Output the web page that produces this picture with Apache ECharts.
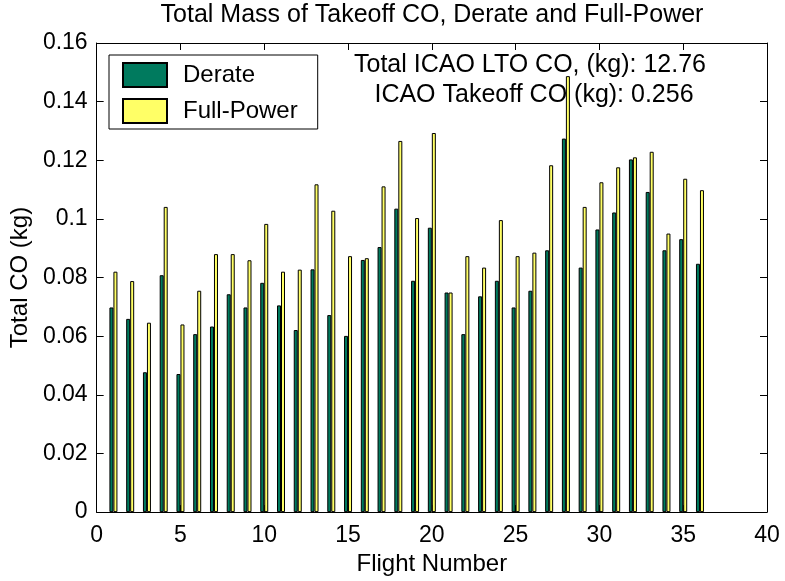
<!DOCTYPE html>
<html>
<head>
<meta charset="utf-8">
<script src="https://cdn.jsdelivr.net/npm/echarts@6/dist/echarts.min.js"></script>
<style>
  html, body { margin: 0; padding: 0; background: #fff; }
  #chart { width: 785px; height: 581px; }
</style>
</head>
<body>
<div id="chart"></div>
<script>
// flight numbers
var flights = [1, 2, 3, 4, 5, 6, 7, 8, 9, 10, 11, 12, 13, 14, 15, 16, 17, 18,
  19, 20, 21, 22, 23, 24, 25, 26, 27, 28, 29, 30, 31, 32, 33, 34, 35, 36]

// takeoff CO (kg), derate
var derate = [0.0698, 0.0659, 0.0477, 0.0808, 0.0471, 0.0607, 0.0633, 0.0743, 0.0698,
  0.0782, 0.0705, 0.0621, 0.0828, 0.0672, 0.0601, 0.0860, 0.0904, 0.1035,
  0.0789, 0.0970, 0.0749, 0.0607, 0.0736, 0.0789, 0.0698, 0.0755, 0.0893,
  0.1274, 0.0834, 0.0964, 0.1022, 0.1203, 0.1092, 0.0893, 0.0931, 0.0847]

// takeoff CO (kg), full power
var fullPower = [0.0820, 0.0788, 0.0646, 0.1041, 0.0640, 0.0755, 0.0880, 0.0880, 0.0859,
  0.0983, 0.0820, 0.0827, 0.1118, 0.1028, 0.0873, 0.0866, 0.1111, 0.1266,
  0.1003, 0.1293, 0.0749, 0.0873, 0.0834, 0.0996, 0.0873, 0.0885, 0.1183,
  0.1487, 0.1041, 0.1125, 0.1176, 0.1210, 0.1229, 0.0950, 0.1137, 0.1098]

var notes = ['Total ICAO LTO CO, (kg): 12.76', 'ICAO Takeoff CO (kg): 0.256']

var FONT = 'Liberation Sans, Arial, sans-serif'
var FS = 23

function pairs(vals) {
  return flights.map(function (f, i) { return [f, vals[i]] })
}

var chart = echarts.init(document.getElementById('chart'))

// shared axis look: black frame, ticks pointing inward
var tickStyle = {
  axisLine: { show: true, onZero: false, lineStyle: { color: '#000', width: 1 } },
  axisTick: { show: true, inside: true, length: 7, lineStyle: { color: '#000' } },
  splitLine: { show: false }
}

chart.setOption({
  animation: false,
  textStyle: { fontFamily: FONT },
  graphic: [
    // title, centred over the plot area
    {
      type: 'text', x: 432, y: 15,
      style: { text: 'Total Mass of Takeoff CO, Derate and Full-Power', font: '25px ' + FONT, fill: '#000', align: 'center', verticalAlign: 'middle' }
    },
    {
      type: 'text', x: 530, y: 65,
      style: { text: notes[0], font: '25px ' + FONT, fill: '#000', align: 'center', verticalAlign: 'middle' }
    },
    {
      type: 'text', x: 534, y: 95,
      style: { text: notes[1], font: '25px ' + FONT, fill: '#000', align: 'center', verticalAlign: 'middle' }
    }
  ],
  grid: { left: 96, right: 18, top: 43, bottom: 62 },
  legend: {
    orient: 'vertical',
    left: 109,
    top: 55,
    itemWidth: 44,
    itemHeight: 24,
    itemGap: 10,
    padding: [7, 20, 5, 13],
    borderColor: '#000',
    borderWidth: 1,
    backgroundColor: '#fff',
    icon: 'rect',
    textStyle: { fontFamily: FONT, fontSize: 24, color: '#000', padding: [0, 0, 0, 11] },
    data: ['Derate', 'Full-Power']
  },
  xAxis: [
    Object.assign({
      type: 'value', min: 0, max: 40, interval: 5,
      name: 'Flight Number', nameLocation: 'middle', nameGap: 32,
      nameTextStyle: { fontFamily: FONT, fontSize: 24, color: '#000' },
      axisLabel: { fontFamily: FONT, fontSize: FS, color: '#000', margin: 12 }
    }, tickStyle),
    Object.assign({
      type: 'value', min: 0, max: 40, interval: 5, position: 'top',
      axisLabel: { show: false }
    }, tickStyle)
  ],
  yAxis: [
    Object.assign({
      type: 'value', min: 0, max: 0.16, interval: 0.02,
      name: 'Total CO (kg)', nameLocation: 'middle', nameGap: 62,
      nameTextStyle: { fontFamily: FONT, fontSize: 24, color: '#000' },
      axisLabel: { fontFamily: FONT, fontSize: FS, color: '#000', margin: 9 }
    }, tickStyle),
    Object.assign({
      type: 'value', min: 0, max: 0.16, interval: 0.02, position: 'right',
      axisLabel: { show: false }
    }, tickStyle)
  ],
  series: [
    {
      name: 'Derate',
      type: 'bar',
      barWidth: 4,
      barGap: '0%',
      itemStyle: { color: '#007a5e', borderColor: '#000', borderWidth: 1 },
      data: pairs(derate)
    },
    {
      name: 'Full-Power',
      type: 'bar',
      barWidth: 4,
      barGap: '0%',
      itemStyle: { color: '#ffff66', borderColor: '#000', borderWidth: 1 },
      data: pairs(fullPower)
    }
  ]
})
</script>
</body>
</html>
